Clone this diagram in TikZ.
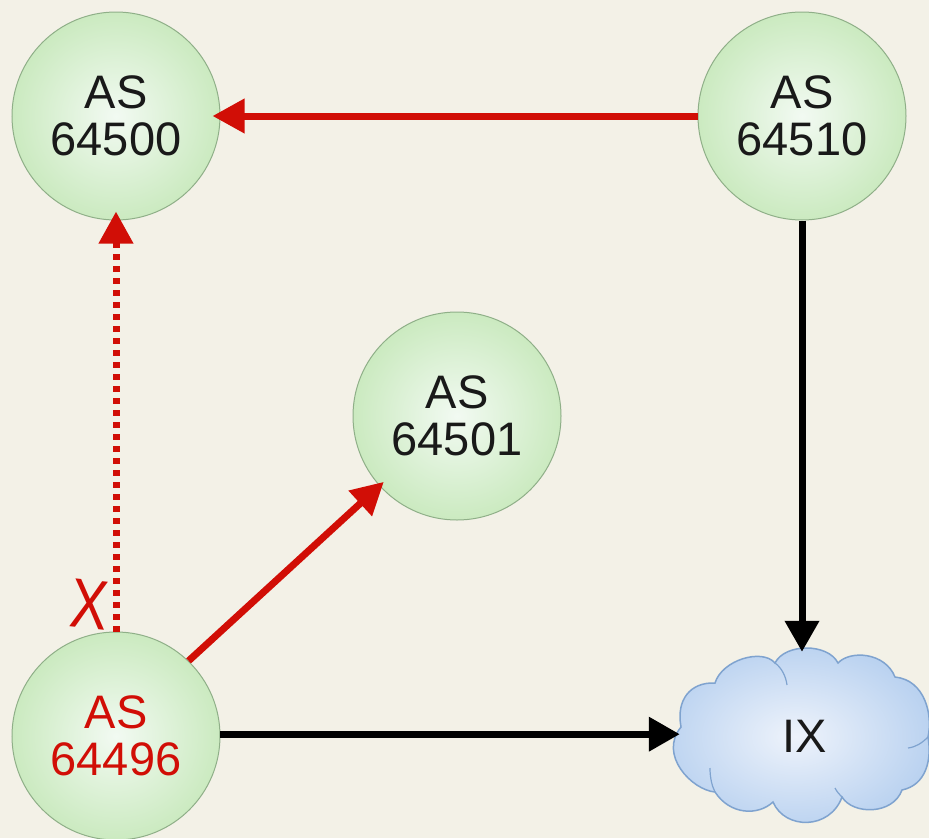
\documentclass[tikz,border=0pt]{standalone}
\usepackage{fontspec}
\setmainfont{Liberation Sans}
\usetikzlibrary{arrows.meta}
\definecolor{bgc}{HTML}{F3F1E7}
\definecolor{redc}{HTML}{D10E06}
\definecolor{asout}{HTML}{CBEAC0}
\definecolor{asin}{HTML}{F2FAF2}
\definecolor{asline}{HTML}{8FAF88}
\definecolor{cloudout}{HTML}{BAD2F0}
\definecolor{cloudin}{HTML}{EEF3FB}
\definecolor{cloudline}{HTML}{7FA3CF}
\tikzset{
  asnode/.style={circle,draw=asline,line width=1pt,minimum size=208pt,inner sep=0pt,
    inner color=asin,outer color=asout,align=center,text=black!90,
    font=\fontsize{47}{47.5}\selectfont},
  ixnode/.style={rectangle,minimum width=250pt,minimum height=176pt,inner sep=0pt,
    text=black!90,font=\fontsize{47}{48}\selectfont},
  blackarrow/.style={line width=7pt,black,-{Triangle[length=31pt,width=33pt]}},
  redarrow/.style={line width=7pt,redc,-{Triangle[length=32pt,width=33pt]}},
  blocked/.style={redarrow,dash pattern=on 6pt off 6pt},
  crease/.style={draw=cloudline,line width=1.2pt}
}
\begin{document}
\begin{tikzpicture}[x=1pt,y=-1pt]
\useasboundingbox (0,0) rectangle (929,838);
\fill[bgc] (0,0) rectangle (929,838);
% cloud
\path[draw=cloudline,line width=1.5pt,inner color=cloudin,outer color=cloudout]
  (681,727) .. controls (676,700) and (690,682) .. (715,683)
  .. controls (722,660) and (762,648) .. (775,663)
  .. controls (785,643) and (828,643) .. (838,663)
  .. controls (850,650) and (885,652) .. (895,677)
  .. controls (925,680) and (933,715) .. (928,737)
  .. controls (932,760) and (926,785) .. (902,790)
  .. controls (893,815) and (853,815) .. (842,797)
  .. controls (830,830) and (785,830) .. (773,802)
  .. controls (758,816) and (730,815) .. (715,792)
  .. controls (692,790) and (658,755) .. (681,727) -- cycle;
\draw[crease] (775,663) .. controls (782,668) and (786,677) .. (787,685);
\draw[crease] (710,768) .. controls (710,778) and (712,786) .. (715,792);
\draw[crease] (835,788) .. controls (837,792) and (840,795) .. (842,797);
\draw[crease] (928,737) .. controls (922,743) and (916,747) .. (908,748);
\node[ixnode] (ix) at (805,736) {IX};
% AS nodes
\node[asnode] (a) at (116,116) {AS\\64500};
\node[asnode] (b) at (802,116) {AS\\64510};
\node[asnode] (c) at (457,416) {AS\\64501};
\node[asnode,text=redc] (d) at (116,736) {AS\\64496};
% connectors
\draw[redarrow,shorten >=-8pt] (b) -- (a);
\draw[blocked,shorten >=-9pt] (d) -- (a);
\draw[redarrow,shorten >=-6pt] (d.46.5) -- (c.222.5);
\draw[blackarrow,shorten >=-4pt] (b) -- (b.center |- ix.north);
\draw[blackarrow] (d.1) -- (d.1 -| ix.west);
\node[text=redc,inner sep=0pt,rotate=-6,font=\fontsize{70}{70}\selectfont] (x) at (90,604) {\scalebox{0.8}[1]{X}};
\end{tikzpicture}
\end{document}
